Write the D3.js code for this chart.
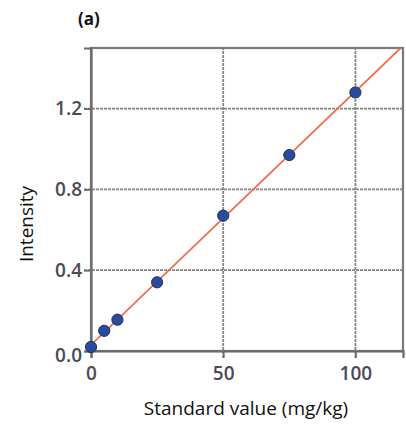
<!DOCTYPE html>
<html><head><meta charset="utf-8">
<script src="https://cdn.jsdelivr.net/npm/d3@7"></script>
<style>body{margin:0;background:#fff}</style>
</head><body>
<script>
const standardValues = [0, 5, 10, 25, 50, 75, 100];
const intensities = [0.02, 0.10, 0.155, 0.34, 0.67, 0.97, 1.28];
const xTicks = [0, 50, 100];
const yTicks = [0.0, 0.4, 0.8, 1.2];
const xDomain = [0, 118];
const yDomain = [0, 1.5];

const W = 406, H = 431;
const m = {l: 91, t: 48, r: 3, b: 80};
const svg = d3.select("body").append("svg").attr("width", W).attr("height", H);
const x = d3.scaleLinear().domain(xDomain).range([m.l, W - m.r]);
const y = d3.scaleLinear().domain(yDomain).range([H - m.b, m.t]);

const labelFont = "'Open Sans', sans-serif";
const tickColor = "#4d4a57";

// grid
svg.append("g").selectAll("line").data(yTicks.filter(d => d > 0)).join("line")
  .attr("x1", x(xDomain[0]) - 7).attr("x2", x(xDomain[1]))
  .attr("y1", d => y(d)).attr("y2", d => y(d))
  .attr("stroke", "#858585").attr("stroke-width", 1.8).attr("stroke-dasharray", "3,1");
svg.append("g").selectAll("line").data(xTicks.filter(d => d > 0)).join("line")
  .attr("y1", y(yDomain[0]) + 7).attr("y2", y(yDomain[1]))
  .attr("x1", d => x(d)).attr("x2", d => x(d))
  .attr("stroke", "#858585").attr("stroke-width", 1.8).attr("stroke-dasharray", "3,1");

// frame
svg.append("rect").attr("x", x(xDomain[0])).attr("y", y(yDomain[1]))
  .attr("width", x(xDomain[1]) - x(xDomain[0])).attr("height", y(yDomain[0]) - y(yDomain[1]))
  .attr("fill", "none").attr("stroke", "#7a7a7a").attr("stroke-width", 2.2);

// axes (labels)
const yAxis = d3.axisLeft(y).tickValues(yTicks).tickFormat(d3.format(".1f")).tickSize(7).tickPadding(2);
const gy = svg.append("g").attr("transform", `translate(${x(0)},0)`).call(yAxis);
gy.select(".domain").attr("stroke", "#6a6a6a").attr("stroke-width", 2.2);
gy.selectAll(".tick line").attr("stroke", "#6a6a6a").attr("stroke-width", 1.8);
gy.selectAll(".tick text").attr("font-family", labelFont).attr("font-size", 19).attr("font-weight", 600)
  .attr("fill", tickColor).attr("dy", d => d === 0 ? "0.55em" : "0.32em");

const xAxis = d3.axisBottom(x).tickValues(xTicks).tickSize(7).tickPadding(9);
const gx = svg.append("g").attr("transform", `translate(0,${y(0)})`).call(xAxis);
gx.select(".domain").attr("stroke", "#6a6a6a").attr("stroke-width", 2.2);
gx.selectAll(".tick line").attr("stroke", "#6a6a6a").attr("stroke-width", 1.8);
gx.selectAll(".tick text").attr("font-family", labelFont).attr("font-size", 19).attr("font-weight", 600)
  .attr("fill", tickColor);

// regression line
const mx = d3.mean(standardValues), my = d3.mean(intensities);
const sxy = d3.sum(standardValues, (v, i) => (v - mx) * (intensities[i] - my));
const sxx = d3.sum(standardValues, v => (v - mx) ** 2);
const slope = sxy / sxx, icpt = my - slope * mx;
svg.append("defs").append("clipPath").attr("id", "clip").append("rect")
  .attr("x", x(xDomain[0])).attr("y", y(yDomain[1]))
  .attr("width", x(xDomain[1]) - x(xDomain[0])).attr("height", y(yDomain[0]) - y(yDomain[1]));
svg.append("line").attr("clip-path", "url(#clip)")
  .attr("x1", x(xDomain[0])).attr("y1", y(icpt + slope * xDomain[0]))
  .attr("x2", x(xDomain[1])).attr("y2", y(icpt + slope * xDomain[1]))
  .attr("stroke", "#f26a48").attr("stroke-width", 1.8);

// points
svg.append("g").selectAll("circle").data(standardValues).join("circle")
  .attr("cx", d => x(d)).attr("cy", (d, i) => y(intensities[i])).attr("r", 5.6)
  .attr("fill", "#2b4a9c").attr("stroke", "#1c2f66").attr("stroke-width", 1);

// titles
svg.append("text").attr("x", 78).attr("y", 25).text("(a)")
  .attr("font-family", labelFont).attr("font-size", 17).attr("font-weight", 700).attr("fill", "#111");
svg.append("text").attr("x", 246).attr("y", 415).attr("text-anchor", "middle")
  .text("Standard value (mg/kg)").attr("font-family", labelFont).attr("font-size", 19).attr("fill", "#111");
svg.append("text").attr("transform", "translate(33,224) rotate(-90)").attr("text-anchor", "middle")
  .text("Intensity").attr("font-family", labelFont).attr("font-size", 19).attr("fill", "#111");
</script>
</body></html>
